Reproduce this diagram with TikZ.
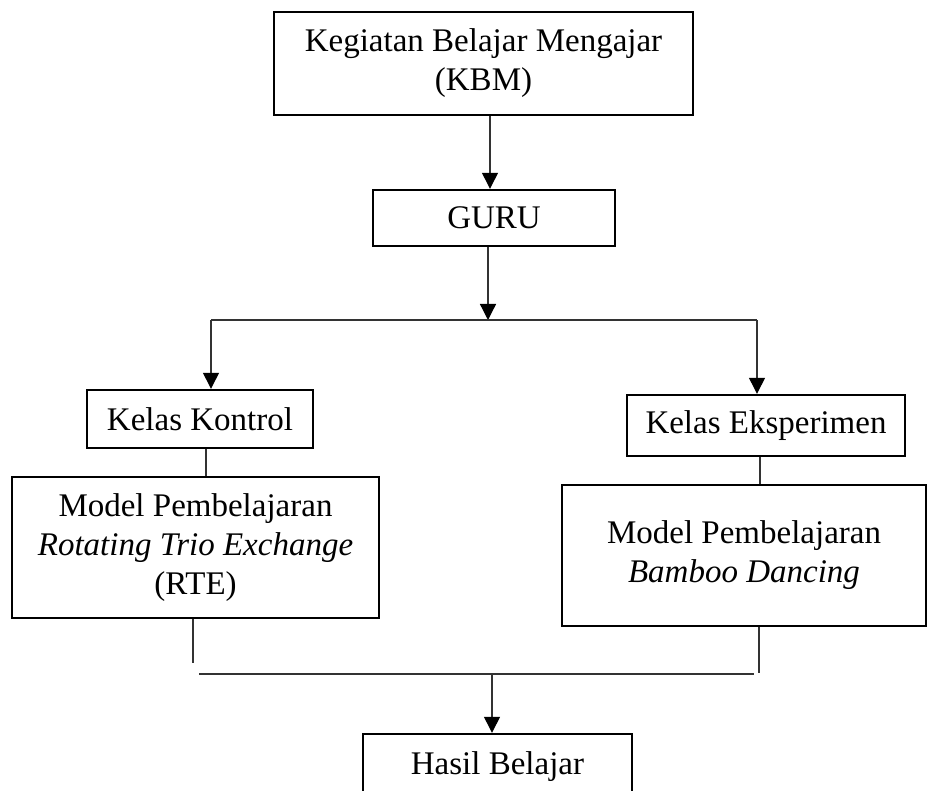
\documentclass[tikz,border=0pt]{standalone}
\usepackage{fontspec}
\setmainfont{Liberation Serif}
\usetikzlibrary{arrows.meta,positioning}

\begin{document}
\begin{tikzpicture}[x=1pt, y=-1pt,
    box/.style={draw, line width=2.4pt, align=center, inner sep=0pt, font=\fontsize{33}{39}\selectfont},
    link/.style={draw=black!80, line width=1.3pt},
    >={Triangle[width=16pt,length=16pt,color=black]}]
    \useasboundingbox (0,0) rectangle (928,791);

    \node[box, minimum width=419pt, minimum height=103pt] (kbm) at (483.5,63.5) {Kegiatan Belajar Mengajar\\(KBM)};

    \node[box, minimum width=242pt, minimum height=56pt] (guru) at (494,218) {GURU};

    \node[box, minimum width=226pt, minimum height=58pt] (kontrol) at (200,419) {Kelas Kontrol};

    \node[box, minimum width=278pt, minimum height=61pt] (eksperimen) at (766,425.5) {Kelas Eksperimen};

    \node[box, minimum width=367pt, minimum height=141pt] (rte) at (195.5,547.5) {Model Pembelajaran\\\textit{Rotating Trio Exchange}\\(RTE)};

    \node[box, minimum width=364pt, minimum height=141pt] (bamboo) at (744,555.5) {Model Pembelajaran\\\textit{Bamboo Dancing}};

    \node[box, minimum width=269pt, minimum height=66pt] (hasil) at (497.5,767) {Hasil Belajar};

    % branch points
    \coordinate (split) at (488,320);
    \coordinate (splitL) at (211,320);
    \coordinate (splitR) at (757,320);
    \coordinate (mergeL) at (199,674);
    \coordinate (mergeR) at (754,674);
    \coordinate (merge) at (492,674);

    \draw[link, ->] (kbm.south -| 490,0) -- (guru.north -| 490,0);
    \draw[link, ->] (guru.south -| split) -- (split);
    \draw[link] (splitL) -- (splitR);
    \draw[link, ->] (splitL) -- (splitL |- kontrol.north);
    \draw[link, ->] (splitR) -- (splitR |- eksperimen.north);

    \draw[link] ([xshift=6pt]kontrol.south) -- ([xshift=6pt]kontrol.south |- rte.north);
    \draw[link] ([xshift=-6pt]eksperimen.south) -- ([xshift=-6pt]eksperimen.south |- bamboo.north);

    \draw[link] (rte.south -| 193,0) -- (193,663);
    \draw[link] (bamboo.south -| 759,0) -- (759,673);
    \draw[link] (mergeL) -- (mergeR);
    \draw[link, ->] (merge) -- (merge |- hasil.north);
\end{tikzpicture}
\end{document}
